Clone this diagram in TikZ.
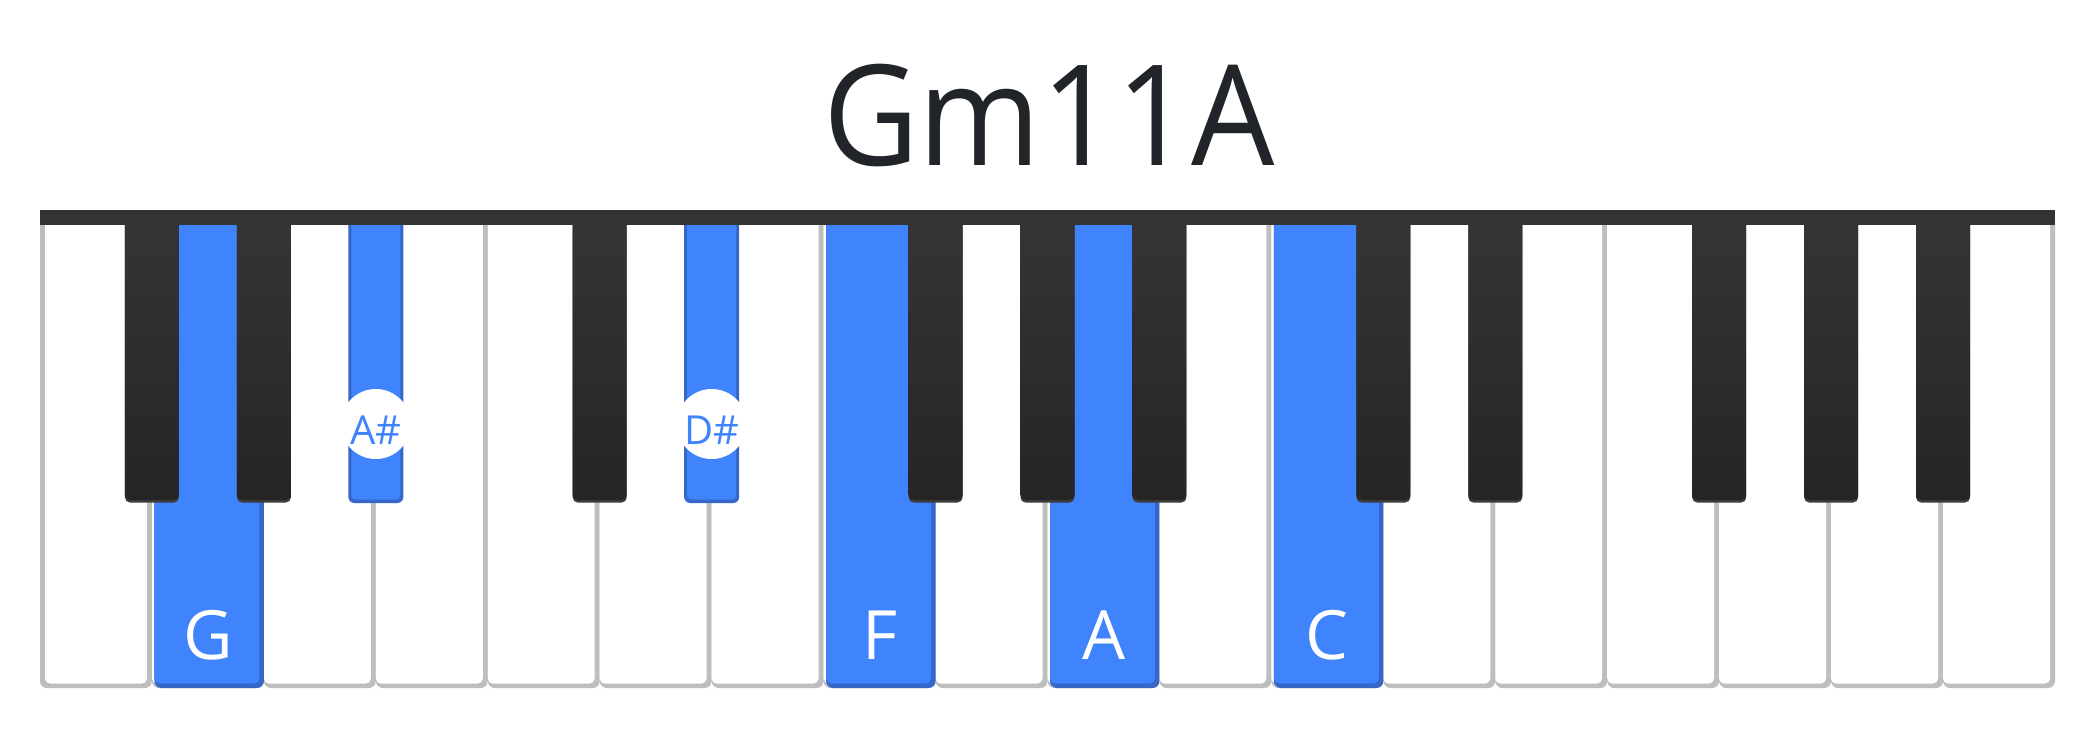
\documentclass[tikz,border=0pt]{standalone}
\usepackage{fontspec}
\setmainfont{Open Sans}
\newfontfamily\titlefont[FakeStretch=0.94]{Open Sans}
\definecolor{keyblue}{HTML}{3F83FD}
\definecolor{keyblueedge}{HTML}{3567C8}
\definecolor{keygray}{HTML}{BEBEBE}
\definecolor{barcol}{HTML}{333333}
\definecolor{titlecol}{HTML}{212529}
\definecolor{blacktop}{HTML}{353535}
\definecolor{blackbot}{HTML}{252525}
\definecolor{blackrim}{HTML}{3C3C3C}
\begin{document}
\begin{tikzpicture}[x=1pt,y=-1pt,
  sharpdisc/.style={circle, fill=white, minimum size=70pt, inner sep=0pt},
  sharplabel/.style={anchor=base, inner sep=0pt, text=keyblue, font=\fontsize{40pt}{48pt}\selectfont},
  keylabel/.style={anchor=base, inner sep=0pt, text=white, font=\fontsize{68pt}{80pt}\selectfont},
  titlestyle/.style={anchor=base, inner sep=0pt, text=titlecol, font=\titlefont\fontsize{140pt}{160pt}\selectfont}]
\fill[white] (0,0) rectangle (2100,740);
\useasboundingbox (0,0) rectangle (2100,740);
% white keys: right and bottom borders
\foreach \i in {1,...,17} {
  \pgfmathsetmacro\L{40+\i*111.944}
  \pgfmathsetmacro\R{\L+111.944}
  \fill[keygray, rounded corners=7pt] (\L,212) rectangle (\R,688);
  \fill[white, rounded corners=5pt] (\L,212) rectangle (\R-5,683.5);
}
% first key, with a left border too
\fill[keygray, rounded corners=7pt] (40,212) rectangle (151.944,688);
\fill[white, rounded corners=5pt] (45,212) rectangle (146.944,683.5);
% highlighted white keys
\foreach \i in {1,7,9,11} {
  \pgfmathsetmacro\L{40+\i*111.944}
  \pgfmathsetmacro\R{\L+111.944}
  \fill[keyblueedge, rounded corners=7pt] (\L+2.5,212) rectangle (\R,688);
  \fill[keyblue, rounded corners=5pt] (\L+2.5,212) rectangle (\R-4.5,683.5);
}
% black keys
\foreach \b in {1,2,5,8,9,10,12,13,15,16,17} {
  \pgfmathsetmacro\B{40+\b*111.944}
  \fill[blackrim, rounded corners=5pt] (\B-27,215) rectangle (\B+27,502.5);
  \shade[top color=blacktop, bottom color=blackbot, rounded corners=5pt] (\B-27,215) rectangle (\B+27,500);
}
% highlighted black keys
\foreach \b in {3,6} {
  \pgfmathsetmacro\B{40+\b*111.944}
  \fill[keyblueedge, rounded corners=6pt] (\B-27.5,215) rectangle (\B+27.5,503);
  \fill[keyblue, rounded corners=4pt] (\B-24.5,215) rectangle (\B+24.5,499.5);
}
% top bar
\fill[barcol] (40,210) rectangle (2055,225);
% sharp labels
\node[sharpdisc] (discAs) at (375.8,424) {};
\node[sharplabel] (labAs) at (375.8,444) {A\#};
\node[sharpdisc] (discDs) at (711.7,424) {};
\node[sharplabel] (labDs) at (711.7,444) {D\#};
% white key labels
\node[keylabel] (labG) at (207.9,659) {G};
\node[keylabel] (labF) at (879.6,659) {F};
\node[keylabel] (labA) at (1103.5,659) {A};
\node[keylabel] (labC) at (1327.4,659) {C};
% title
\node[titlestyle] (title) at (1049,165) {Gm11A};
\end{tikzpicture}
\end{document}
